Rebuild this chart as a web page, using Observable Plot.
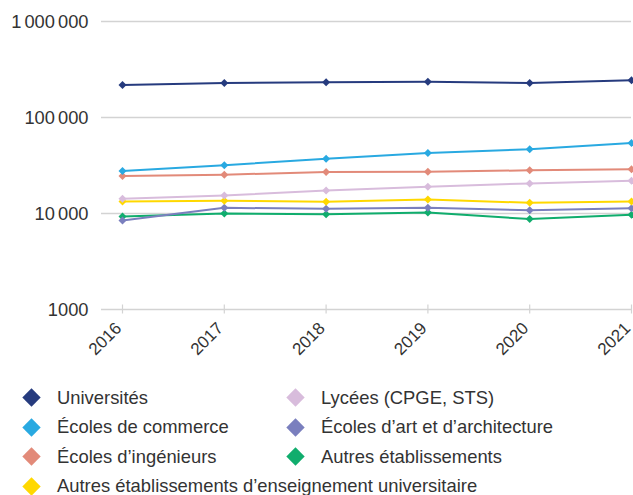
<!DOCTYPE html>
<html><head><meta charset="utf-8">
<script src="https://cdn.jsdelivr.net/npm/d3@7"></script>
<script src="https://cdn.jsdelivr.net/npm/@observablehq/plot@0.6"></script>
<style>
body{margin:0;background:#fff;font-family:"Liberation Sans",Arial,sans-serif;}
#legend{display:grid;grid-template-columns:264px auto;padding-left:24.5px;margin-top:3px;font-size:18.4px;color:#333;}
.item{display:flex;align-items:center;height:29.5px;white-space:nowrap;}
.item.wide{grid-column:1 / span 2;}
.sw{width:13px;height:13px;transform:rotate(45deg);margin-right:19.5px;flex:none;}
</style>
</head><body>
<div id="chart"></div>
<div id="legend"></div>
<script>
const years = [2016, 2017, 2018, 2019, 2020, 2021];
const yTicks = [1000, 10000, 100000, 1000000];

const names = [
  "Universités",
  "Écoles de commerce",
  "Écoles d’ingénieurs",
  "Autres établissements d’enseignement universitaire",
  "Lycées (CPGE, STS)",
  "Écoles d’art et d’architecture",
  "Autres établissements"
];
const colors = ["#263b7e", "#29a9e1", "#e28a79", "#ffd800", "#d8bcdc", "#7a7fbe", "#10ad6d"];

const universites   = [218000, 228600, 232300, 236000, 228600, 243800];
const commerce      = [27700, 31800, 37250, 42700, 46700, 54300];
const ingenieurs    = [24560, 25370, 27040, 27280, 28140, 28830];
const autresUniv    = [13340, 13560, 13240, 14000, 12920, 13340];
const lycees        = [14220, 15410, 17390, 18990, 20590, 21950];
const art           = [8450, 11460, 11190, 11460, 10840, 11370];
const autres        = [9310, 10000, 9840, 10240, 8740, 9680];

const seriesValues = [universites, commerce, ingenieurs, autresUniv, lycees, art, autres];
const drawOrder = [6, 5, 3, 4, 2, 1, 0];

const data = drawOrder.flatMap(i => years.map((year, j) => ({year, value: seriesValues[i][j], name: names[i]})));

const fr = d3.formatLocale({decimal: ",", thousands: "\u2006", grouping: [3], currency: ["", " €"]});
const fmtBig = fr.format(",d");
const fmt = d => d < 10000 ? String(d) : fmtBig(d);

const W = 633, H = 380, mTop = 21, mBottom = 71, mLeft = 101, mRight = 2;

const chart = Plot.plot({
  width: W, height: H,
  marginTop: mTop, marginBottom: mBottom, marginLeft: mLeft, marginRight: mRight,
  style: {fontFamily: "'Liberation Sans', Arial, sans-serif", fontSize: "17px", color: "#333", background: "#fff", overflow: "visible"},
  x: {domain: [2016, 2021], insetLeft: 21, label: null},
  y: {type: "log", domain: [1000, 1000000], label: null},
  color: {domain: names, range: colors},
  marks: [
    Plot.gridY(yTicks, {stroke: "#d3d3d3", strokeOpacity: 1, strokeWidth: 1.5}),
    Plot.ruleX(years, {x: d => d, stroke: "#d3d3d3", strokeWidth: 1.2, insetTop: H - mTop - mBottom - 4.5, insetBottom: -4.5}),
    Plot.axisY(yTicks, {tickSize: 0, tickPadding: 13, tickFormat: fmt, fontSize: 18.3, fill: "#333", dy: 1, label: null}),
    Plot.axisX(years, {tickSize: 0, tickPadding: 16, tickRotate: -45, tickFormat: d => String(d), fontSize: 17, fill: "#333", dx: -4, label: null}),
    Plot.line(data, {x: "year", y: "value", z: "name", stroke: "name", strokeWidth: 2}),
    Plot.dot(data, {x: "year", y: "value", fill: "name", symbol: "diamond2", r: 3.6})
  ]
});
document.getElementById("chart").appendChild(chart);

const legendOrder = [0, 4, 1, 5, 2, 6, 3];
const legend = document.getElementById("legend");
legendOrder.forEach((i, k) => {
  const it = document.createElement("div");
  it.className = "item" + (k === legendOrder.length - 1 ? " wide" : "");
  const sw = document.createElement("span");
  sw.className = "sw";
  sw.style.background = colors[i];
  const t = document.createElement("span");
  t.textContent = names[i];
  it.appendChild(sw); it.appendChild(t);
  legend.appendChild(it);
});
</script>
</body></html>
